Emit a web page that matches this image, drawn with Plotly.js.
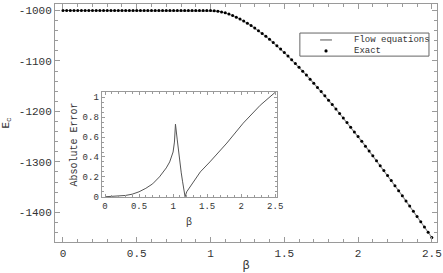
<!DOCTYPE html>
<html>
<head>
<meta charset="utf-8">
<script src="https://cdn.plot.ly/plotly-3.0.1.min.js"></script>
<style>html,body{margin:0;padding:0;background:#fff;}#chart{width:443px;height:273px;}</style>
</head>
<body>
<div id="chart"></div>
<script>
// Main plot: ground-state energy E_c versus beta
const beta = [0,0.025,0.05,0.075,0.1,0.125,0.15,0.175,0.2,0.225,0.25,0.275,0.3,0.325,0.35,0.375,0.4,0.425,0.45,0.475,0.5,0.525,0.55,0.575,0.6,0.625,0.65,0.675,0.7,0.725,0.75,0.775,0.8,0.825,0.85,0.875,0.9,0.925,0.95,0.975,1.0,1.025,1.05,1.075,1.1,1.125,1.15,1.175,1.2,1.225,1.25,1.275,1.3,1.325,1.35,1.375,1.4,1.425,1.45,1.475,1.5,1.525,1.55,1.575,1.6,1.625,1.65,1.675,1.7,1.725,1.75,1.775,1.8,1.825,1.85,1.875,1.9,1.925,1.95,1.975,2.0,2.025,2.05,2.075,2.1,2.125,2.15,2.175,2.2,2.225,2.25,2.275,2.3,2.325,2.35,2.375,2.4,2.425,2.45,2.475,2.5];
const exactE = [-1000,-1000,-1000,-1000,-1000,-1000,-1000,-1000,-1000,-1000,-1000,-1000,-1000,-1000,-1000,-1000,-1000,-1000,-1000,-1000,-1000,-1000,-1000,-1000,-1000,-1000,-1000,-1000,-1000,-1000,-1000,-1000,-1000,-1000,-1000,-1000,-1000,-1000,-1000,-1000,-1000,
-1000.30,-1001.19,-1002.62,-1004.55,-1006.94,-1009.78,-1013.03,-1016.67,-1020.66,-1025.00,-1029.66,-1034.62,-1039.86,-1045.37,-1051.14,-1057.14,-1063.38,-1069.83,-1076.48,-1083.33,-1090.37,-1097.58,-1104.96,-1112.50,-1120.19,-1128.03,-1136.01,-1144.12,-1152.36,-1160.71,-1169.19,-1177.78,-1186.47,-1195.27,-1204.17,-1213.16,-1222.24,-1231.41,-1240.66,-1250.00,-1259.41,-1268.90,-1278.46,-1288.10,-1297.79,-1307.56,-1317.39,-1327.27,-1337.22,-1347.22,-1357.28,-1367.39,-1377.55,-1387.77,-1398.03,-1408.33,-1418.69,-1429.08,-1439.52,-1450.00];
const flowE = exactE;

// Inset: absolute error versus beta
const betaErr = [0,0.1,0.2,0.3,0.4,0.5,0.6,0.7,0.8,0.9,0.95,1.0,1.02,1.035,1.06,1.08,1.1,1.12,1.14,1.16,1.176,1.2,1.25,1.3,1.4,1.54,1.79,2.03,2.28,2.5];
const absErr  = [0,0.002,0.006,0.013,0.026,0.05,0.085,0.13,0.2,0.29,0.35,0.45,0.55,0.73,0.58,0.45,0.34,0.24,0.15,0.07,0.0,0.05,0.1,0.15,0.25,0.35,0.54,0.74,0.92,1.05];

// Tick labels and legend names
const mainXTicks = [0,0.5,1,1.5,2,2.5];
const mainXText = ["0","0.5","1","1.5","2","2.5"];
const mainYTicks = [-1000,-1100,-1200,-1300,-1400];
const mainYText = ["-1000","-1100","-1200","-1300","-1400"];
const insetYTicks = [0,0.2,0.4,0.6,0.8,1];
const insetYText = ["0","0.2","0.4","0.6","0.8","1"];
const legendNames = ["Flow equations", "Exact"];

const FONT = "Liberation Mono, Courier New, monospace";
const FRAME = "#9a9a9a";
const LINE_GRAY = "#8c8c8c";

const traces = [
  {x: beta, y: flowE, type: "scatter", mode: "lines", name: legendNames[0],
   line: {color: LINE_GRAY, width: 1.1}, xaxis: "x", yaxis: "y"},
  {x: beta, y: exactE, type: "scatter", mode: "markers", name: legendNames[1],
   marker: {color: "#000", size: 3}, xaxis: "x", yaxis: "y"},
  {x: betaErr, y: absErr, type: "scatter", mode: "lines",
   line: {color: "#555", width: 1}, xaxis: "x2", yaxis: "y2"}
];

function axisCommon() {
  return {showline: true, linecolor: FRAME, linewidth: 1, mirror: "ticks",
    ticks: "inside", tickcolor: FRAME, showgrid: false, zeroline: false};
}

// Hand-built compact legend (box, swatches, labels) in paper coordinates
const LG = {x0: 0.641, x1: 0.979, y0: 0.781, y1: 0.878, row1: 0.849, row2: 0.803, sw0: 0.694, sw1: 0.725, text: 0.777};
const shapes = [
  {type: "rect", xref: "paper", yref: "paper", x0: LG.x0, x1: LG.x1, y0: LG.y0, y1: LG.y1,
   line: {color: "#666", width: 1}, fillcolor: "#fff", layer: "above"},
  {type: "line", xref: "paper", yref: "paper", x0: LG.sw0, x1: LG.sw1, y0: LG.row1, y1: LG.row1,
   line: {color: LINE_GRAY, width: 1.5}, layer: "above"},
  {type: "circle", xref: "paper", yref: "paper", xsizemode: "pixel", ysizemode: "pixel",
   xanchor: (LG.sw0 + LG.sw1) / 2, yanchor: LG.row2, x0: -1.6, x1: 1.6, y0: -1.6, y1: 1.6,
   line: {color: "#000", width: 0}, fillcolor: "#000", layer: "above"}
];
const annotations = [
  {xref: "paper", yref: "paper", x: LG.text, y: LG.row1, xanchor: "left", yanchor: "middle",
   text: legendNames[0], showarrow: false, font: {family: FONT, size: 9, color: "#333"}},
  {xref: "paper", yref: "paper", x: LG.text, y: LG.row2, xanchor: "left", yanchor: "middle",
   text: legendNames[1], showarrow: false, font: {family: FONT, size: 9, color: "#333"}}
];

const layout = {
  width: 443, height: 273,
  margin: {l: 55, r: 6, t: 4, b: 31},
  paper_bgcolor: "#fff", plot_bgcolor: "#fff",
  font: {family: FONT, color: "#333", size: 11},
  showlegend: false,
  shapes: shapes,
  annotations: annotations,
  xaxis: Object.assign(axisCommon(), {
    domain: [0, 1], range: [-0.054, 2.535], tickvals: mainXTicks, ticktext: mainXText,
    ticklen: 5, tickfont: {size: 11}, ticklabelstandoff: 1,
    minor: {dtick: 0.1, tick0: 0, ticks: "inside", ticklen: 3, tickcolor: FRAME},
    title: {text: "β", font: {size: 12}, standoff: 4}
  }),
  yaxis: Object.assign(axisCommon(), {
    domain: [0, 1], range: [-1459, -987], tickvals: mainYTicks, ticktext: mainYText,
    ticklen: 5, tickfont: {size: 11},
    minor: {dtick: 20, tick0: -1000, ticks: "inside", ticklen: 3, tickcolor: FRAME},
    title: {text: "E<sub>c</sub>", font: {size: 11}, standoff: 7}
  }),
  xaxis2: Object.assign(axisCommon(), {
    domain: [0.122, 0.580], anchor: "y2", range: [-0.05, 2.52],
    tickvals: mainXTicks, ticktext: mainXText, ticklen: 3, tickfont: {size: 9},
    minor: {dtick: 0.1, tick0: 0, ticks: "inside", ticklen: 2, tickcolor: FRAME},
    title: {text: "β", font: {size: 10}, standoff: 6}
  }),
  yaxis2: Object.assign(axisCommon(), {
    domain: [0.188, 0.631], anchor: "x2", range: [-0.005, 1.055],
    tickvals: insetYTicks, ticktext: insetYText, ticklen: 3, tickfont: {size: 9},
    minor: {dtick: 0.05, tick0: 0, ticks: "inside", ticklen: 2, tickcolor: FRAME},
    title: {text: "Absolute Error", font: {size: 10}, standoff: 3}
  })
};

Plotly.newPlot("chart", traces, layout, {staticPlot: true, displayModeBar: false});
</script>
</body>
</html>
